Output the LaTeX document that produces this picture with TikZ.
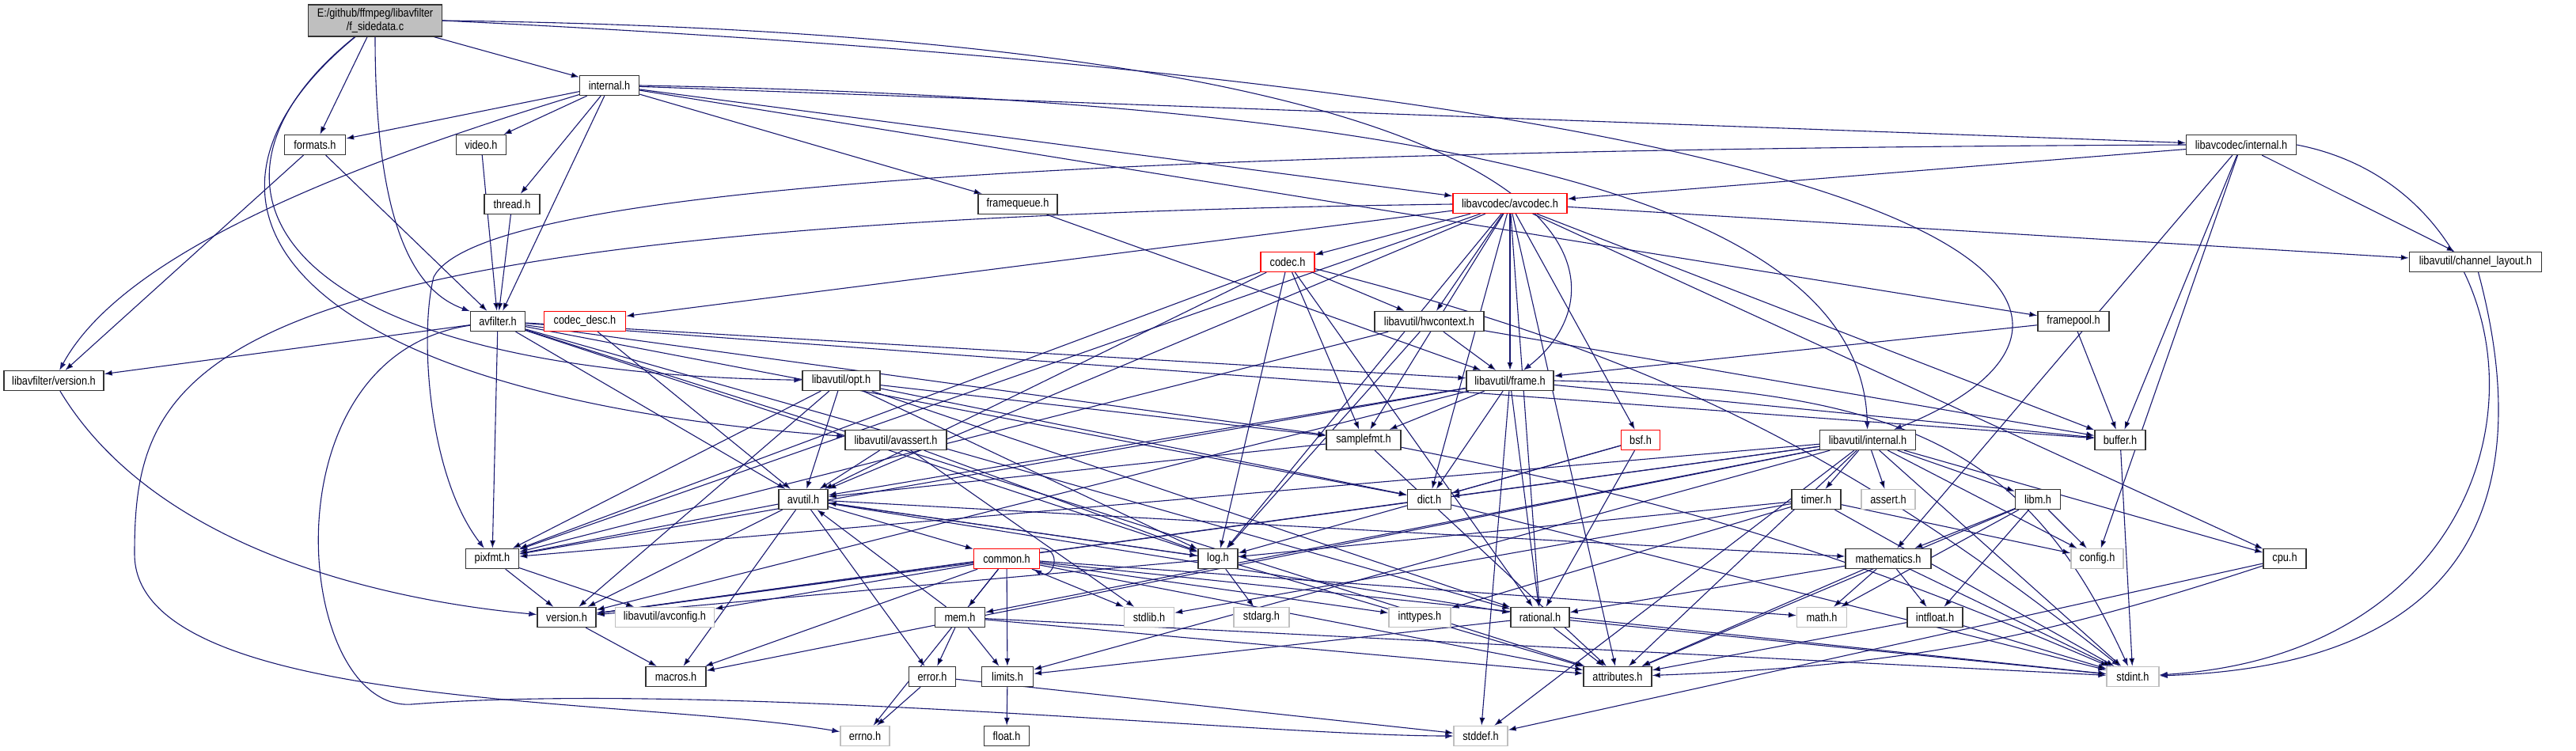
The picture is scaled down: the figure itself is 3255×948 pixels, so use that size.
\documentclass[tikz,border=0pt]{standalone}
\usepackage{fontspec}
\setmainfont{Liberation Sans}[FakeStretch=0.85]
\usepackage{tikz}
\usetikzlibrary{arrows.meta}
\definecolor{edgeblue}{RGB}{25,25,112}
\definecolor{sysgray}{RGB}{191,191,191}
\tikzstyle{every picture}=[->,>={Latex[length=10pt,width=7pt]}]
\tikzset{
  hdr/.style={draw=black!80, line width=1.3pt, fill=white, minimum height=25pt,
    inner sep=0pt, font=\fontsize{15}{17}\selectfont},
  syshdr/.style={hdr, draw=sysgray},
  cuthdr/.style={hdr, draw=red},
  dep/.style={draw=edgeblue, line width=1.1pt},
}
\pgfdeclarelayer{background}
\pgfsetlayers{background,main}

\begin{document}
\begin{tikzpicture}[x=1pt,y=-1pt]
    \useasboundingbox (0,0) rectangle (3255,948);

    % The file itself
    \node[hdr, fill=sysgray, minimum width=169pt, minimum height=40pt, align=center] (src) at (474,26)
        {E:/github/ffmpeg/libavfilter\\/f\_sidedata.c};

    % libavfilter headers
    \node[hdr, minimum width=75pt] (internal) at (770,108) {internal.h};
    \node[hdr, minimum width=77pt] (formats) at (398,183) {formats.h};
    \node[hdr, minimum width=63pt] (video) at (608,183) {video.h};
    \node[hdr, minimum width=70pt] (thread) at (647,258) {thread.h};
    \node[hdr, minimum width=100pt] (framequeue) at (1286,258) {framequeue.h};
    \node[hdr, minimum width=69pt] (avfilter) at (629,406) {avfilter.h};
    \node[hdr, minimum width=90pt] (framepool) at (2620,406) {framepool.h};
    \node[hdr, minimum width=126pt] (lfversion) at (68,481) {libavfilter/version.h};

    % libavcodec headers
    \node[cuthdr, minimum width=144pt] (avcodec) at (1908,257) {libavcodec/avcodec.h};
    \node[hdr, minimum width=139pt] (lcinternal) at (2832,183) {libavcodec/internal.h};
    \node[cuthdr, minimum width=68pt] (codec) at (1627,331) {codec.h};
    \node[cuthdr, minimum width=103pt] (codecdesc) at (739,406) {codec\_desc.h};
    \node[cuthdr, minimum width=49pt] (bsf) at (2073,556) {bsf.h};

    % libavutil headers
    \node[hdr, minimum width=167pt] (chlayout) at (3128,331) {libavutil/channel\_layout.h};
    \node[hdr, minimum width=138pt] (hwcontext) at (1806,406) {libavutil/hwcontext.h};
    \node[hdr, minimum width=98pt] (opt) at (1063,481) {libavutil/opt.h};
    \node[hdr, minimum width=110pt] (frame) at (1908,481) {libavutil/frame.h};
    \node[hdr, minimum width=128pt] (avassert) at (1132,556) {libavutil/avassert.h};
    \node[hdr, minimum width=94pt] (samplefmt) at (1723,556) {samplefmt.h};
    \node[hdr, minimum width=121pt] (luinternal) at (2360,556) {libavutil/internal.h};
    \node[hdr, minimum width=64pt] (buffer) at (2679,556) {buffer.h};
    \node[hdr, minimum width=62pt] (avutil) at (1015,631) {avutil.h};
    \node[hdr, minimum width=55pt] (dict) at (1806,631) {dict.h};
    \node[hdr, minimum width=62pt] (timer) at (2295,631) {timer.h};
    \node[hdr, minimum width=57pt] (libm) at (2575,631) {libm.h};
    \node[hdr, minimum width=67pt] (pixfmt) at (622,706) {pixfmt.h};
    \node[cuthdr, minimum width=83pt] (common) at (1272,706) {common.h};
    \node[hdr, minimum width=50pt] (log) at (1539,706) {log.h};
    \node[hdr, minimum width=108pt] (mathematics) at (2386,706) {mathematics.h};
    \node[hdr, minimum width=54pt] (cpu) at (2887,706) {cpu.h};
    \node[hdr, minimum width=74pt] (version) at (716,780) {version.h};
    \node[syshdr, minimum width=125pt] (avconfig) at (840,780) {libavutil/avconfig.h};
    \node[hdr, minimum width=63pt] (mem) at (1213,780) {mem.h};
    \node[hdr, minimum width=74pt] (rational) at (1946,780) {rational.h};
    \node[hdr, minimum width=70pt] (intfloat) at (2445,780) {intfloat.h};
    \node[hdr, minimum width=76pt] (macros) at (854,855) {macros.h};
    \node[hdr, minimum width=59pt] (error) at (1178,855) {error.h};
    \node[hdr, minimum width=65pt] (limits) at (1273,855) {limits.h};
    \node[hdr, minimum width=86pt] (attributes) at (2044,855) {attributes.h};
    \node[hdr, minimum width=57pt] (float) at (1272,930) {float.h};

    % system headers
    \node[syshdr, minimum width=68pt] (assert) at (2386,631) {assert.h};
    \node[syshdr, minimum width=66pt] (config) at (2650,706) {config.h};
    \node[syshdr, minimum width=63pt] (stdlib) at (1452,780) {stdlib.h};
    \node[syshdr, minimum width=70pt] (stdarg) at (1594,780) {stdarg.h};
    \node[syshdr, minimum width=78pt] (inttypes) at (1794,780) {inttypes.h};
    \node[syshdr, minimum width=63pt] (math) at (2302,780) {math.h};
    \node[syshdr, minimum width=66pt] (stdint) at (2695,855) {stdint.h};
    \node[syshdr, minimum width=62pt] (errno) at (1093,930) {errno.h};
    \node[syshdr, minimum width=68pt] (stddef) at (1871,930) {stddef.h};

    \begin{pgfonlayer}{background}
    % includes of the file itself
    \path[dep] (src) edge (internal) edge (formats);
    \draw[dep] (src) .. controls (474,300) and (530,370) .. (avfilter);
    \draw[dep] (src) .. controls (220,230) and (330,470) .. (opt);
    \draw[dep] (src) .. controls (190,260) and (360,500) .. (avassert);
    \draw[dep] (src.east) .. controls (2064,45) and (2064,360) .. (frame);
    \draw[dep] (src.east) .. controls (2702,130) and (2702,420) .. (luinternal);

    % libavfilter
    \path[dep] (internal) edge (formats) edge (video) edge (thread)
        edge (avfilter) edge (framequeue) edge (avcodec) edge (lcinternal) edge (framepool);
    \draw[dep] (internal) .. controls (400,220) and (150,330) .. (lfversion);
    \draw[dep] (internal.east) .. controls (2000,130) and (2353,300) .. (luinternal);
    \path[dep] (formats) edge (avfilter) edge (lfversion);
    \path[dep] (video) edge (avfilter);
    \path[dep] (thread) edge (avfilter);
    \path[dep] (framequeue) edge (frame);
    \path[dep] (framepool) edge (frame) edge (buffer);
    \path[dep] (avfilter) edge (lfversion) edge (pixfmt) edge (avutil) edge (log) edge (frame)
        edge (samplefmt) edge (dict) edge (buffer) edge (rational) edge (attributes);
    \draw[dep] (avfilter) .. controls (330,450) and (372,900) .. (520,890)
        .. controls (900,860) and (1600,930) .. (stddef);
    \draw[dep] (lfversion) .. controls (200,700) and (500,760) .. (version);

    % libavcodec
    \path[dep] (lcinternal) edge (avcodec) edge (chlayout) edge (buffer) edge (mathematics) edge (config);
    \draw[dep] (lcinternal.east) .. controls (3250,250) and (3250,820) .. (stdint);
    \draw[dep] (lcinternal.west) .. controls (1200,190) and (600,250) .. (548,350)
        .. controls (530,420) and (540,600) .. (pixfmt);
    \draw[dep] (chlayout) .. controls (3200,600) and (3150,840) .. (stdint);
    \path[dep] (avcodec) edge (codec) edge (codecdesc) edge (hwcontext) edge (frame) edge (samplefmt)
        edge (bsf) edge (avutil) edge (log) edge (dict) edge (buffer) edge (cpu) edge (chlayout)
        edge (pixfmt) edge (rational) edge (attributes);
    \draw[dep] (avcodec) .. controls (250,280) and (170,450) .. (170,700)
        .. controls (170,900) and (800,880) .. (errno);
    \path[dep] (codec) edge (hwcontext) edge (log) edge (samplefmt) edge (avutil) edge (pixfmt)
        edge (rational) edge[bend left=12] (stdint);
    \path[dep] (codecdesc) edge (avutil);
    \path[dep] (bsf) edge (dict) edge (log) edge (rational);

    % libavutil
    \path[dep] (hwcontext) edge (buffer) edge (frame) edge (log) edge (pixfmt);
    \path[dep] (opt) edge (rational) edge (avutil) edge (dict) edge (log) edge (pixfmt)
        edge (samplefmt) edge (version);
    \path[dep] (frame) edge (avutil) edge (buffer) edge (dict) edge (rational) edge (samplefmt)
        edge (pixfmt) edge (version) edge (stddef);
    \draw[dep] (frame.east) .. controls (2400,490) and (2560,560) .. (stdint);
    \path[dep] (avassert) edge (stdlib) edge (avutil) edge (log);
    \path[dep] (samplefmt) edge[bend left=6] (stdint) edge (avutil) edge (attributes);
    \path[dep] (luinternal) edge (limits) edge (stdint) edge (stddef) edge (assert) edge (config)
        edge (attributes) edge (timer) edge (cpu) edge (dict) edge (macros) edge (mem)
        edge (pixfmt) edge (version) edge (libm);
    \path[dep] (buffer) edge (stdint);
    \path[dep] (avutil) edge (common) edge (error) edge (rational) edge (version) edge (macros)
        edge (mathematics) edge (log) edge (pixfmt);
    \path[dep] (dict) edge (stdint) edge (version);
    \path[dep] (timer) edge (stdlib) edge (stdint) edge (inttypes) edge (config) edge (log);
    \path[dep] (libm) edge (math) edge (config) edge (attributes) edge (intfloat) edge (mathematics);
    \path[dep] (pixfmt) edge (version) edge (avconfig);
    \path[dep] (common) edge (errno) edge (inttypes) edge (limits) edge (math) edge (stdint)
        edge (stdlib) edge (attributes) edge (macros) edge (version) edge (avconfig) edge (mem);
    \draw[dep] (common.north east) .. controls +(30,0) and +(25,15) .. ([xshift=-8pt]common.south east);
    \path[dep] (mathematics) edge (stdint) edge (math) edge (attributes) edge (rational) edge (intfloat);
    \path[dep] (cpu) edge[bend left=8] (attributes) edge (stddef);
    \path[dep] (log) edge (stdarg) edge (avutil) edge (attributes) edge (version);
    \path[dep] (mem) edge (limits) edge (stdint) edge (attributes) edge (error) edge (avutil);
    \path[dep] (intfloat) edge (stdint) edge (attributes);
    \path[dep] (version) edge (macros);
    \path[dep] (error) edge (errno) edge (stddef);
    \path[dep] (limits) edge (float);
    \path[dep] (rational) edge (stdint) edge (limits) edge (attributes);
    \end{pgfonlayer}
\end{tikzpicture}
\end{document}
